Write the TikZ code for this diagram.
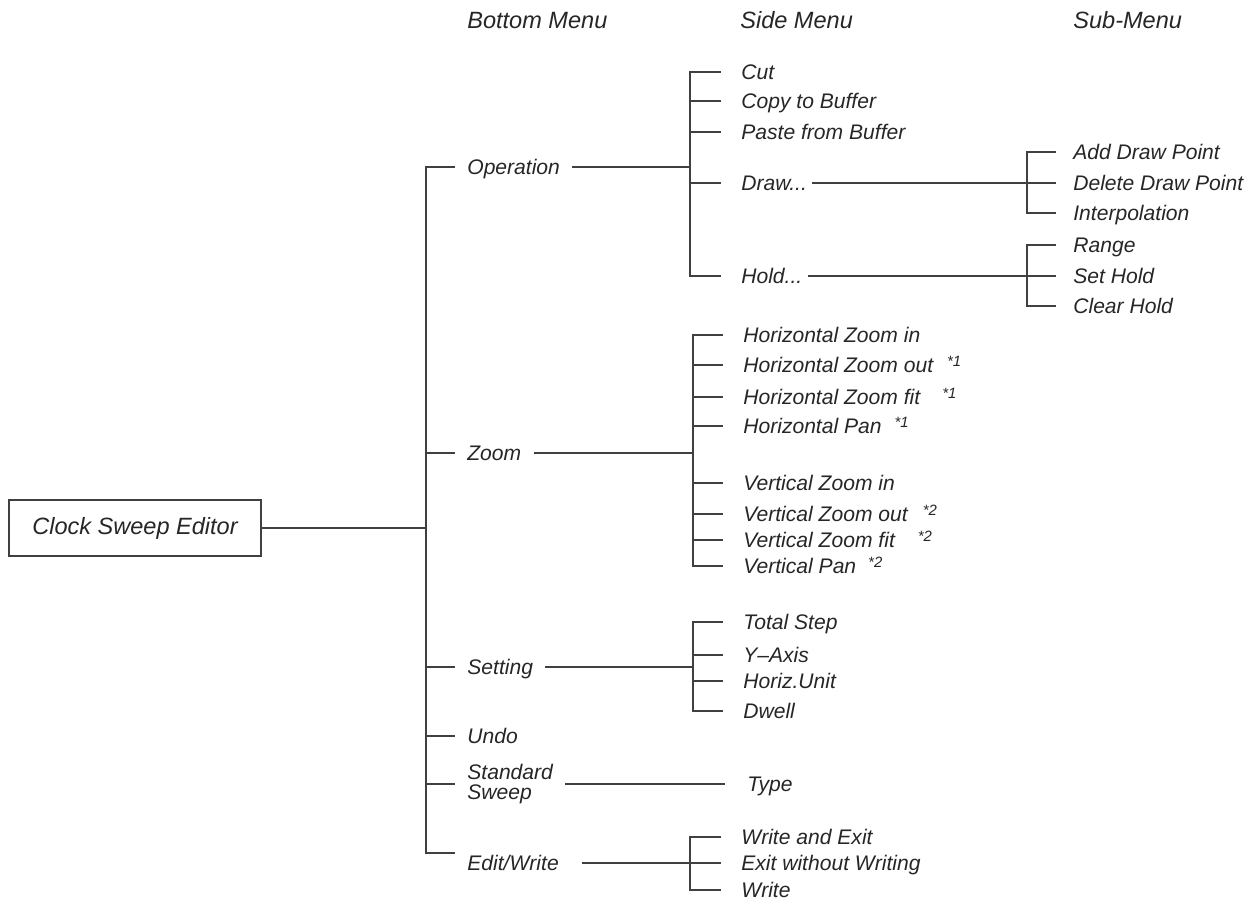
\documentclass[tikz,border=0pt]{standalone}
\usepackage{fontspec}
\setmainfont{Liberation Sans}
\usetikzlibrary{positioning,calc}

\newcommand{\fnote}[2]{\hspace{#1}\raisebox{0.13cm}{\fontsize{8.5}{8.5}\selectfont *#2}}

\begin{document}
\begin{tikzpicture}[
  x=0.02cm, y=-0.02cm,
  every node/.style={font=\fontsize{12}{11.5}\selectfont\itshape, text=black!85},
  big/.style={font=\fontsize{13.4}{12}\selectfont\itshape},
  lbl/.style={anchor=west, inner ysep=0pt, text height=8.6pt, text depth=0pt},
  head/.style={lbl, big, inner xsep=0pt, text height=9.6pt},
  bm/.style={lbl, inner xsep=0.24cm},
  sm/.style={lbl, inner xsep=0.4cm},
  sub/.style={lbl, inner xsep=0.34cm},
  edge/.style={line width=0.7pt, draw=black!75},
]
  \useasboundingbox (0,0) rectangle (1257,905);

  \node[head] (bmhead)  at (467,20)  {Bottom Menu};
  \node[head] (smhead)  at (740,20)  {Side Menu};
  \node[head] (subhead) at (1073,20) {Sub-Menu};

  \node[big, draw=black!75, line width=0.7pt, minimum width=5.04cm, minimum height=1.12cm] (editor) at (135,528) {Clock Sweep Editor};

  \coordinate (trunk) at (426,0);
  \coordinate (opbr)  at (690,0);
  \coordinate (zmbr)  at (693,0);
  \coordinate (stbr)  at (693,0);
  \coordinate (edbr)  at (690,0);
  \coordinate (drbr)  at (1027,0);
  \coordinate (hdbr)  at (1027,0);
  \coordinate (edtick) at (455,853);

  \node[bm] (op)   at (455,167) {Operation};
  \node[bm] (zoom) at (455,453) {Zoom};
  \node[bm] (set)  at (455,667) {Setting};
  \node[bm] (undo) at (455,736) {Undo};
  \node[anchor=west, inner xsep=0.24cm, align=left] (std) at (455,784) {Standard\\Sweep};
  \node[bm] (edit) at (455,863) {Edit/Write};

  \node[sm] (cut)   at (721,72)  {Cut};
  \node[sm] (copy)  at (721,101) {Copy to Buffer};
  \node[sm] (paste) at (721,132) {Paste from Buffer};
  \node[sm] (drw)   at (721,183) {Draw...};
  \node[sm] (hold)  at (721,276) {Hold...};

  \node[sub] (adp)     at (1056,152) {Add Draw Point};
  \node[sub] (ddp)     at (1056,183) {Delete Draw Point};
  \node[sub] (interp)  at (1056,213) {Interpolation};
  \node[sub] (range)   at (1056,245) {Range};
  \node[sub] (sethold) at (1056,276) {Set Hold};
  \node[sub] (clrhold) at (1056,306) {Clear Hold};

  \node[sm] (hzin)  at (723,335) {Horizontal Zoom in};
  \node[sm] (hzout) at (723,365) {Horizontal Zoom out\fnote{0.28cm}{1}};
  \node[sm] (hzfit) at (723,397) {Horizontal Zoom fit\fnote{0.44cm}{1}};
  \node[sm] (hpan)  at (723,426) {Horizontal Pan\fnote{0.26cm}{1}};
  \node[sm] (vzin)  at (723,483) {Vertical Zoom in};
  \node[sm] (vzout) at (723,514) {Vertical Zoom out\fnote{0.3cm}{2}};
  \node[sm] (vzfit) at (723,540) {Vertical Zoom fit\fnote{0.46cm}{2}};
  \node[sm] (vpan)  at (723,566) {Vertical Pan\fnote{0.24cm}{2}};

  \node[sm] (total) at (723,622) {Total Step};
  \node[sm] (yaxis) at (723,655) {Y--Axis};
  \node[sm] (hunit) at (723,681) {Horiz.Unit};
  \node[sm] (dwell) at (723,711) {Dwell};

  \node[lbl, inner xsep=0.44cm] (type) at (725,784) {Type};

  \node[sm] (wexit)  at (721,837) {Write and Exit};
  \node[sm] (exitnw) at (721,863) {Exit without Writing};
  \node[sm] (write)  at (721,890) {Write};

  \draw[edge] (editor.east) -- (trunk |- editor.east);
  \draw[edge] (op.west) -- (trunk |- op) -- (trunk |- edtick) -- (edtick);
  \draw[edge] (trunk |- zoom) -- (zoom.west);
  \draw[edge] (trunk |- set) -- (set.west);
  \draw[edge] (trunk |- undo) -- (undo.west);
  \draw[edge] (trunk |- std) -- (std.west);

  \draw[edge] (op.east) -- (opbr |- op);
  \draw[edge] (zoom.east) -- (zmbr |- zoom);
  \draw[edge] (set.east) -- (stbr |- set);
  \draw[edge] (std.east) -- (type.west);
  \draw[edge] ([xshift=0.22cm]edit.east) -- (edbr |- edit);

  \draw[edge] (cut.west) -- (opbr |- cut) -- (opbr |- hold) -- (hold.west);
  \draw[edge] (opbr |- copy) -- (copy.west);
  \draw[edge] (opbr |- paste) -- (paste.west);
  \draw[edge] (opbr |- drw) -- (drw.west);

  \draw[edge] ([xshift=-0.3cm]drw.east) -- (drbr |- drw);
  \draw[edge] (adp.west) -- (drbr |- adp) -- (drbr |- interp) -- (interp.west);
  \draw[edge] (drbr |- ddp) -- (ddp.west);
  \draw[edge] ([xshift=-0.3cm]hold.east) -- (hdbr |- hold);
  \draw[edge] (range.west) -- (hdbr |- range) -- (hdbr |- clrhold) -- (clrhold.west);
  \draw[edge] (hdbr |- sethold) -- (sethold.west);

  \draw[edge] (hzin.west) -- (zmbr |- hzin) -- (zmbr |- vpan) -- (vpan.west);
  \draw[edge] (zmbr |- hzout) -- (hzout.west);
  \draw[edge] (zmbr |- hzfit) -- (hzfit.west);
  \draw[edge] (zmbr |- hpan) -- (hpan.west);
  \draw[edge] (zmbr |- vzin) -- (vzin.west);
  \draw[edge] (zmbr |- vzout) -- (vzout.west);
  \draw[edge] (zmbr |- vzfit) -- (vzfit.west);

  \draw[edge] (total.west) -- (stbr |- total) -- (stbr |- dwell) -- (dwell.west);
  \draw[edge] (stbr |- yaxis) -- (yaxis.west);
  \draw[edge] (stbr |- hunit) -- (hunit.west);

  \draw[edge] (wexit.west) -- (edbr |- wexit) -- (edbr |- write) -- (write.west);
  \draw[edge] (edbr |- exitnw) -- (exitnw.west);
\end{tikzpicture}
\end{document}
